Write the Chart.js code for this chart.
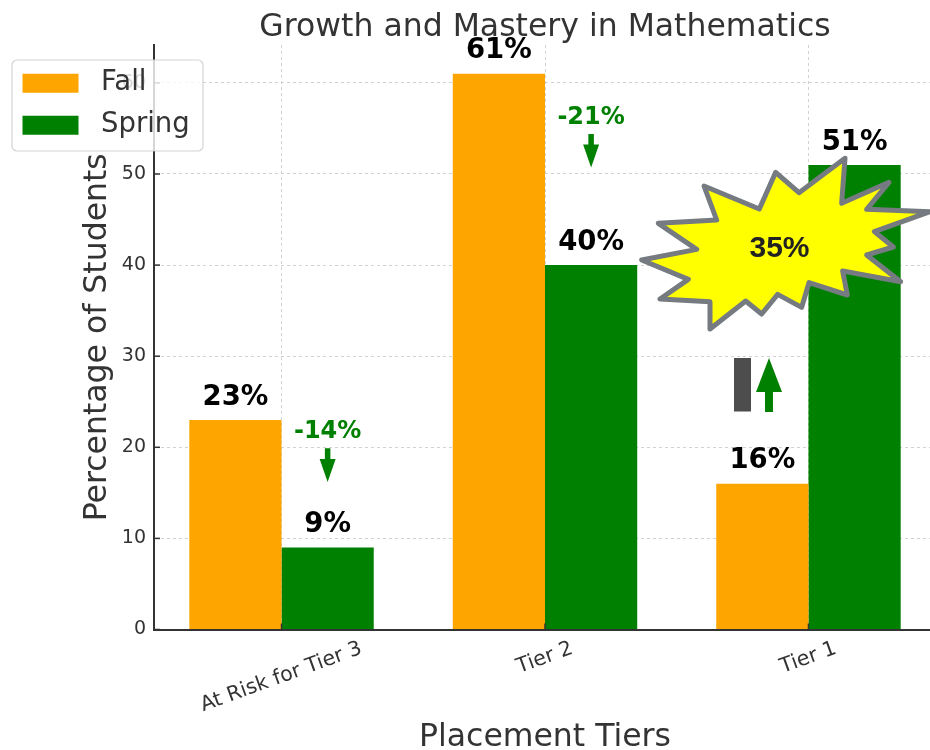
<!DOCTYPE html>
<html><head><meta charset="utf-8">
<style>html,body{margin:0;padding:0;background:#fff;overflow:hidden;width:930px;height:750px}canvas{display:block}</style>
<script src="https://cdn.jsdelivr.net/npm/chart.js@4/dist/chart.umd.min.js"></script>
</head><body>
<canvas id="c" width="936" height="750"></canvas>
<script>
const categories = ['At Risk for Tier 3', 'Tier 2', 'Tier 1'];
const fallValues = [23, 61, 16];
const springValues = [9, 40, 51];
const yTicks = [0, 10, 20, 30, 40, 50, 60];
const dropLabels = ['-14%', '-21%'];
const burstLabel = '35%';

const FONT = '"DejaVu Sans"';
const ORANGE = '#FFA500', GREEN = '#008000', INK = '#333333';
const GROUP = 0.7;
const DROP_TEXT_AT = [21.7, 56.2], DROP_ARROW_FROM = [19.9, 54.4], DROP_ARROW_TO = [16.2, 50.7];

const burst = [[35,420],[175,478],[90,537],[240,545],[240,627],[347,543],[395,582],[443,523],[515,562],[537,488],[652,525],[638,453],[812,485],[710,405],[790,381],[733,335],[900,275],[710,268],[777,187],[635,250],[645,115],[507,218],[437,157],[388,267],[222,198],[260,300],[85,310],[200,388]];

function arrow(ctx, x, yTip, yEnd, headW, headL, shaftW) {
  const d = yEnd > yTip ? 1 : -1;
  ctx.beginPath();
  ctx.moveTo(x, yTip);
  ctx.lineTo(x + headW / 2, yTip + d * headL);
  ctx.lineTo(x + shaftW / 2, yTip + d * headL);
  ctx.lineTo(x + shaftW / 2, yEnd);
  ctx.lineTo(x - shaftW / 2, yEnd);
  ctx.lineTo(x - shaftW / 2, yTip + d * headL);
  ctx.lineTo(x - headW / 2, yTip + d * headL);
  ctx.closePath();
  ctx.fill();
}

const decor = {
  id: 'decor',
  afterLayout(chart) {
    const l = chart.legend;
    if (!l._wrapped) {
      const orig = l.draw;
      l.draw = function () {
        const ctx = chart.ctx, ys = chart.scales.y;
        ctx.save();
        ctx.strokeStyle = INK; ctx.lineWidth = 1.5;
        yTicks.forEach(v => {
          const p = ys.getPixelForValue(v);
          ctx.beginPath(); ctx.moveTo(ys.right, p); ctx.lineTo(ys.right + 6, p); ctx.stroke();
        });
        ctx.beginPath();
        ctx.roundRect(12, 60, 191, 91, 5);
        ctx.fillStyle = 'rgba(255,255,255,0.8)'; ctx.fill();
        ctx.strokeStyle = 'rgba(204,204,204,0.85)'; ctx.lineWidth = 1.2; ctx.stroke();
        ctx.restore();
        orig.call(l);
      };
      l._wrapped = true;
    }
    l.left = 8; l.right = 300; l.top = 55; l.bottom = 400;
  },
  beforeDraw(chart) {
    const ctx = chart.ctx, xs = chart.scales.x;
    xs.getLabelItems().forEach(it => {
      ctx.font = it.font.string;
      const w = ctx.measureText(it.label).width, r = 20 * Math.PI / 180;
      const h = it.font.size;
      const t = it.options.translation;
      if (!it._moved) { t[0] += 4; it._moved = true; }
      it.options.translation = [t[0], 638.5 + (w * Math.sin(r) + h * Math.cos(r)) / 2];
      it.options.textAlign = 'center';
      it.options.textBaseline = 'middle';
      it.textOffset = 0;
    });
  },
  afterDatasetsDraw(chart) {
    const ctx = chart.ctx, xs = chart.scales.x, ys = chart.scales.y;
    const half = GROUP / 4;
    ctx.save();
    ctx.strokeStyle = INK; ctx.lineWidth = 1.5;
    categories.forEach((_, i) => {
      const p = xs.getPixelForValue(i);
      ctx.beginPath(); ctx.moveTo(p, ys.bottom); ctx.lineTo(p, ys.bottom - 6); ctx.stroke();
    });
    ctx.textAlign = 'center'; ctx.textBaseline = 'middle';
    ctx.font = 'bold 27.5px ' + FONT; ctx.fillStyle = '#000';
    categories.forEach((_, i) => {
      ctx.fillText(fallValues[i] + '%', xs.getPixelForValue(i - half), ys.getPixelForValue(fallValues[i]) - 22.5);
      ctx.fillText(springValues[i] + '%', xs.getPixelForValue(i + half), ys.getPixelForValue(springValues[i]) - 22.5);
    });
    ctx.fillStyle = GREEN;
    dropLabels.forEach((t, i) => {
      const x = xs.getPixelForValue(i + half);
      ctx.font = 'bold 24px ' + FONT;
      ctx.fillText(t, x, ys.getPixelForValue(DROP_TEXT_AT[i]));
      arrow(ctx, x, ys.getPixelForValue(DROP_ARROW_TO[i]), ys.getPixelForValue(DROP_ARROW_FROM[i]), 16, 23, 5.5);
    });
    ctx.fillStyle = '#4d4d4d';
    ctx.fillRect(734, 358, 17, 53.5);
    ctx.fillStyle = GREEN;
    arrow(ctx, 769, 358, 412, 26, 34, 8);
    ctx.beginPath();
    burst.forEach((p, i) => {
      const x = p[0] / 3 + 630, y = p[1] / 3 + 120;
      i ? ctx.lineTo(x, y) : ctx.moveTo(x, y);
    });
    ctx.closePath();
    ctx.fillStyle = '#FFFF00'; ctx.fill();
    ctx.strokeStyle = '#757B80'; ctx.lineWidth = 5; ctx.lineJoin = 'round'; ctx.stroke();
    ctx.font = 'bold 30px "Liberation Sans"'; ctx.fillStyle = '#222';
    ctx.fillText(burstLabel, 779.5, 248.5);
    ctx.restore();
  }
};

new Chart(document.getElementById('c'), {
  type: 'bar',
  plugins: [decor],
  data: {
    datasets: [
      { label: 'Fall', data: fallValues.map((v, i) => ({ x: i, y: v })), backgroundColor: ORANGE, borderWidth: 0 },
      { label: 'Spring', data: springValues.map((v, i) => ({ x: i, y: v })), backgroundColor: GREEN, borderWidth: 0 }
    ]
  },
  options: {
    responsive: false,
    animation: false,
    devicePixelRatio: 1,
    datasets: { bar: { categoryPercentage: GROUP, barPercentage: 1 } },
    plugins: {
      tooltip: { enabled: false },
      title: {
        display: true, fullSize: false,
        text: 'Growth and Mastery in Mathematics',
        color: INK, font: { family: FONT, size: 31.5, weight: 'normal' },
        padding: { top: 9, bottom: -1.8 }
      },
      legend: {
        display: true, position: 'chartArea', align: 'start',
        labels: {
          color: INK, font: { family: FONT, size: 27.5 },
          boxWidth: 56, boxHeight: 19, padding: 14.5,
          generateLabels(chart) {
            return chart.data.datasets.map((d, i) => ({
              text: ' ' + d.label, fillStyle: d.backgroundColor, strokeStyle: d.backgroundColor,
              lineWidth: 0, hidden: false, datasetIndex: i, fontColor: INK
            }));
          }
        }
      }
    },
    scales: {
      x: {
        type: 'linear', offset: false, min: -0.484, max: 2.484,
        afterFit(s) { s.height = 120.5; },
        afterBuildTicks(s) { s.ticks = categories.map((_, i) => ({ value: i })); },
        grid: { offset: false, color: '#d2d2d2', drawTicks: false, z: -2 },
        border: { display: true, color: INK, width: 2, dash: [3, 3], z: -1 },
        ticks: {
          z: -1, autoSkip: false, minRotation: 20, maxRotation: 20, includeBounds: false,
          color: INK, font: { family: FONT, size: 20.5 },
          callback: v => categories[v]
        },
        title: {
          display: true, text: 'Placement Tiers', color: INK,
          font: { family: FONT, size: 31.5 }, padding: { top: 0, bottom: -7 }
        }
      },
      y: {
        min: 0, max: 64.16,
        afterFit(s) { s.width = 154; },
        afterBuildTicks(s) { s.ticks = yTicks.map(v => ({ value: v })); },
        grid: { color: '#d2d2d2', drawTicks: false, z: -2 },
        border: { display: true, color: INK, width: 2, dash: [3, 3], z: -1 },
        ticks: { z: -1, color: INK, padding: 8, font: { family: FONT, size: 19 } },
        title: {
          display: true, text: 'Percentage of Students', color: INK,
          font: { family: FONT, size: 31.5 }, padding: { top: 79, bottom: 0 }
        }
      }
    }
  }
});
</script>
</body></html>
